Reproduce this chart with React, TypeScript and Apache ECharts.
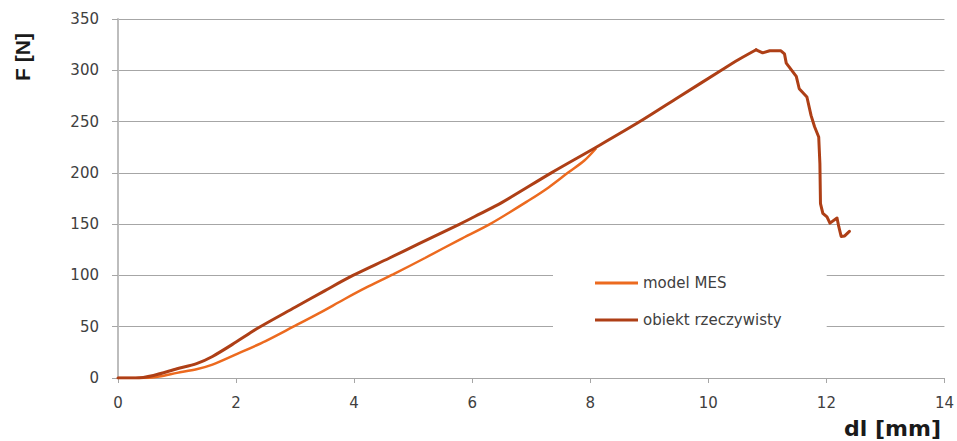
import React, { useEffect, useRef } from "react";
import * as echarts from "echarts";

// model MES (FEM model)
const mesDl = [0, 0.4, 0.7, 1, 1.33, 1.6, 2, 2.5, 2.97, 3.4, 3.84, 4.2, 4.66, 5.2, 5.79, 6.3, 6.97, 7.3, 7.62, 7.9, 8.1];
const mesF = [0, 0, 1.5, 5, 8.5, 13, 23, 36, 50, 63, 77, 88, 101, 117, 135, 150, 173.5, 186, 200, 212, 224];

// obiekt rzeczywisty (real object) – loading part
const realRiseDl = [0, 0.3, 0.6, 1, 1.33, 1.6, 2, 2.35, 3, 3.5, 3.98, 4.6, 5.1, 5.79, 6.13, 6.5, 7.34, 8.1, 8.84, 9.5, 10.22, 10.5, 10.81];
const realRiseF = [0, 0, 2.5, 9, 14, 21, 35, 48, 69, 85, 100, 117, 131, 150, 160, 171, 200, 225, 250, 274, 300, 310, 320];
// obiekt rzeczywisty (real object) – failure part
const realDropDl = [10.81, 10.92, 11.04, 11.23, 11.29, 11.32, 11.49, 11.54, 11.67, 11.74, 11.8, 11.87, 11.89, 11.9, 11.94, 12.01, 12.06, 12.18, 12.21, 12.25, 12.31, 12.39];
const realDropF = [320, 317, 319, 319, 316, 307, 294, 282, 274, 256, 245, 235, 209, 170, 160.5, 157, 151, 156, 147.5, 138, 138.5, 143];

const xTicks = { min: 0, max: 14, interval: 2 };
const yTicks = { min: 0, max: 350, interval: 50 };

const seriesNames = ["model MES", "obiekt rzeczywisty"];
const colors = ["#EC6A1F", "#AE3F16"];

export default function App() {
  const ref = useRef<HTMLDivElement>(null);
  useEffect(() => {
    if (!ref.current) return;
    const chart = echarts.init(ref.current, undefined, { renderer: "svg" });
    const mesData = mesDl.map((x, i) => [x, mesF[i]]);
    const riseData = realRiseDl.map((x, i) => [x, realRiseF[i]]);
    const dropData = realDropDl.map((x, i) => [x, realDropF[i]]);
    const labelColor = "#404040";
    chart.setOption({
      animation: false,
      backgroundColor: "#ffffff",
      grid: { left: 118, right: 12, top: 19, bottom: 63, containLabel: false },
      xAxis: {
        type: "value",
        min: xTicks.min,
        max: xTicks.max,
        interval: xTicks.interval,
        axisLine: { show: true, lineStyle: { color: "#a6a6a6", width: 1 } },
        axisTick: { show: true, length: 5, lineStyle: { color: "#a6a6a6" } },
        splitLine: { show: false },
        axisLabel: { color: labelColor, fontFamily: "DejaVu Sans", fontSize: 15, margin: 17 },
      },
      yAxis: {
        type: "value",
        min: yTicks.min,
        max: yTicks.max,
        interval: yTicks.interval,
        axisLine: { show: true, lineStyle: { color: "#bdbdbd", width: 2 } },
        axisTick: { show: true, length: 6, lineStyle: { color: "#a6a6a6" } },
        splitLine: { show: true, lineStyle: { color: "#a6a6a6", width: 1 } },
        axisLabel: { color: labelColor, fontFamily: "DejaVu Sans", fontSize: 15, margin: 19 },
      },
      legend: {
        orient: "vertical",
        left: 553,
        top: 258,
        padding: [16, 45, 16, 42],
        backgroundColor: "#ffffff",
        itemGap: 19,
        itemWidth: 43,
        itemHeight: 3,
        icon: "rect",
        data: seriesNames,
        textStyle: { color: labelColor, fontFamily: "DejaVu Sans", fontSize: 15, lineHeight: 18 },
        z: 4,
      },
      graphic: [
        {
          type: "text",
          x: 22,
          y: 57,
          rotation: Math.PI / 2,
          style: {
            text: "F [N]",
            fill: "#1a1a1a",
            font: "bold 21px 'Liberation Sans'",
            align: "center",
            verticalAlign: "middle",
          },
        },
        {
          type: "text",
          x: 941,
          y: 428,
          style: {
            text: "dl [mm]",
            fill: "#1a1a1a",
            font: "bold 22px 'DejaVu Sans'",
            align: "right",
            verticalAlign: "middle",
          },
        },
      ],
      series: [
        {
          name: seriesNames[0],
          type: "line",
          data: mesData,
          symbol: "none",
          smooth: 0.3,
          lineStyle: { color: colors[0], width: 2.5 },
          itemStyle: { color: colors[0] },
        },
        {
          name: seriesNames[1],
          type: "line",
          data: riseData,
          symbol: "none",
          smooth: 0.3,
          lineStyle: { color: colors[1], width: 3, cap: "round", join: "round" },
          itemStyle: { color: colors[1] },
        },
        {
          name: seriesNames[1],
          type: "line",
          data: dropData,
          symbol: "none",
          smooth: false,
          lineStyle: { color: colors[1], width: 3, cap: "round", join: "round" },
          itemStyle: { color: colors[1] },
        },
      ],
    });
    return () => chart.dispose();
  }, []);
  return (
    <div
      ref={ref}
      style={{ position: "fixed", left: 0, top: 0, width: 957, height: 441 }}
    />
  );
}
